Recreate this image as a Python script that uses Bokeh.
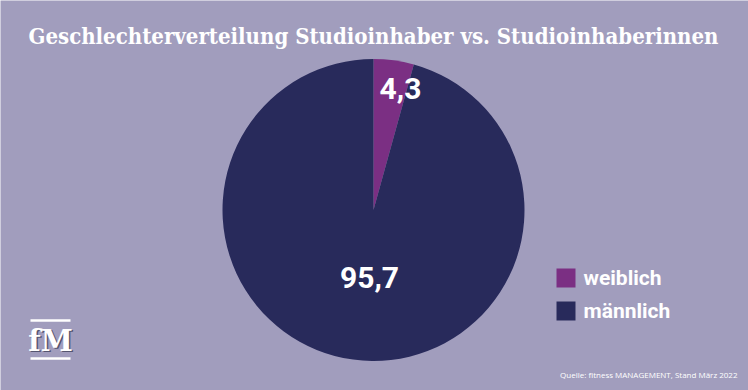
import numpy as np
from bokeh.plotting import figure
from bokeh.models import Range1d
from bokeh.core.properties import value
from bokeh.embed import file_html
from bokeh.resources import INLINE

# ---- data ----
categories = ["weiblich", "männlich"]
shares = [4.3, 95.7]
share_labels = ["4,3", "95,7"]
colors = ["#7b2f83", "#282a5b"]
title_text = "Geschlechterverteilung Studioinhaber vs. Studioinhaberinnen"
source_text = "Quelle: fitness MANAGEMENT, Stand März 2022"

BG = "#a19dbd"
W, H = 748, 390

def Y(y):  # convert top-down pixel to data coordinate
    return H - y

p = figure(width=W, height=H, output_backend="svg",
           toolbar_location=None, x_axis_type=None, y_axis_type=None,
           x_range=Range1d(0, W), y_range=Range1d(0, H),
           min_border=0, outline_line_color=None,
           background_fill_color=BG, border_fill_color=BG)
p.grid.visible = False

# pie
cx, cy, r = 373, 209.5, 151
vals = np.array(shares)
ends = np.cumsum(vals) / vals.sum() * 2 * np.pi
starts = np.concatenate([[0], ends[:-1]])
start_ang = np.pi / 2 - starts
end_ang = np.pi / 2 - ends
p.wedge(x=cx, y=Y(cy), radius=r, start_angle=start_ang, end_angle=end_ang,
        direction="clock", fill_color=colors, line_color=None)

# slice labels
lbl_x = [400, 369]
lbl_y = [Y(88), Y(277)]
p.text(x=lbl_x, y=lbl_y, text=share_labels, text_color="white",
       text_font=value("Roboto"), text_font_style="bold", text_font_size="30px",
       text_align="center", text_baseline="middle")

# title
p.text(x=[373], y=[Y(35)], text=[title_text], text_color="white",
       text_font=value("DejaVu Serif Condensed"), text_font_style="bold",
       text_font_size="22px", text_align="center", text_baseline="middle")

# legend
leg_y = [Y(277.5), Y(310.5)]
p.rect(x=[565.5] * 2, y=leg_y, width=19, height=19, fill_color=colors, line_color=None)
p.text(x=[583] * 2, y=leg_y, text=categories, text_color="white",
       text_font=value("Roboto"), text_font_style="bold", text_font_size="21px",
       text_align="left", text_baseline="middle")

# source
p.text(x=[737], y=[Y(374)], text=[source_text], text_color="white",
       text_font=value("Open Sans"), text_font_size="8px",
       text_align="right", text_baseline="middle")

# fM logo
p.segment(x0=[30, 30], y0=[Y(320), Y(358)], x1=[70, 70], y1=[Y(320), Y(358)],
          line_color="white", line_width=2.5)
p.text(x=[51.5], y=[Y(341)], text=["fM"], text_color="#555570",
       text_font=value("DejaVu Serif"), text_font_style="bold", text_font_size="29px",
       text_align="center", text_baseline="middle")
p.text(x=[50], y=[Y(340)], text=["fM"], text_color="white",
       text_font=value("DejaVu Serif"), text_font_style="bold", text_font_size="29px",
       text_align="center", text_baseline="middle")

html = file_html(p, INLINE)
html = html.replace("<body>", '<body style="margin:0;background:%s">' % BG, 1)
open("out.html", "w").write(html)
